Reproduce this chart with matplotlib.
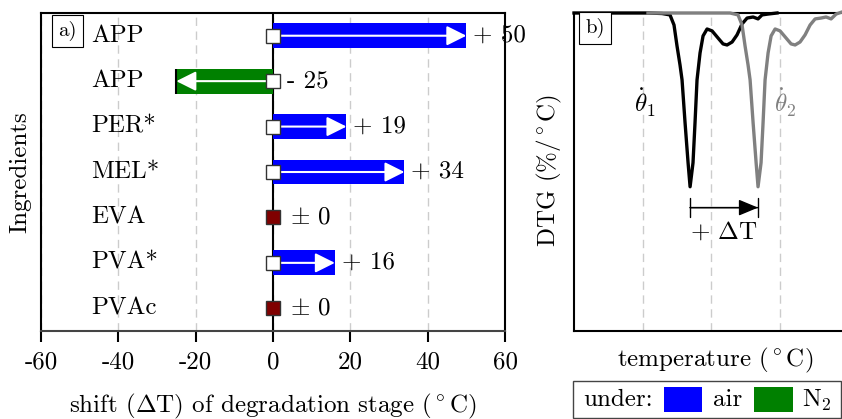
import numpy as np
import matplotlib
matplotlib.use('Agg')
import matplotlib.pyplot as plt
from matplotlib.patches import Rectangle

plt.rcParams['font.family'] = 'serif'
plt.rcParams['font.serif'] = ['cmr10']
plt.rcParams['mathtext.fontset'] = 'cm'
plt.rcParams['axes.unicode_minus'] = False
plt.rcParams['axes.formatter.use_mathtext'] = True

# shift of the degradation stage per ingredient
ingredients = ['APP', 'APP', 'PER*', 'MEL*', 'EVA', 'PVA*', 'PVAc']
shifts = [50, -25, 19, 34, 0, 16, 0]
atmosphere = ['air', 'N2', 'air', 'air', 'air', 'air', 'air']
xticks = [-60, -40, -20, 0, 20, 40, 60]

# DTG curves (temperature in degC, DTG in %/degC)
temp_1 = [200, 281, 296.4, 305.1, 309.5, 312.8, 316.1, 318.3, 321.6, 324.9, 327.1,
          330.3, 332.5, 334.7, 338.0, 341.3, 345.7, 351.2, 357.7, 363.2, 367.6,
          373.1, 378.5, 384.0, 389.5, 396.1, 401.5, 405.9, 412.5, 422.3]
dtg_1 = [0, 0, -0.003, -0.011, -0.069, -0.19, -0.30, -0.385, -0.632, -0.862, -1.0,
         -0.862, -0.632, -0.385, -0.23, -0.132, -0.092, -0.103, -0.144, -0.178, -0.184,
         -0.167, -0.126, -0.063, -0.029, -0.023, -0.034, -0.011, -0.006, 0]
temp_2 = [281, 370.9, 379.6, 384.0, 387.3, 390.6, 392.8, 396.1, 399.4, 401.5,
          404.8, 407.0, 409.2, 412.5, 415.8, 420.2, 425.6, 432.2, 437.7, 442.1,
          447.5, 453.0, 458.5, 464.0, 470.5, 476.0, 481.5, 487.0, 493.5, 500]
dtg_2 = [0, 0, -0.011, -0.069, -0.19, -0.30, -0.385, -0.632, -0.862, -1.0,
         -0.862, -0.632, -0.385, -0.23, -0.132, -0.092, -0.103, -0.144, -0.178, -0.184,
         -0.167, -0.126, -0.069, -0.034, -0.029, -0.023, -0.034, -0.006, 0.006, 0.0]
temp_grid = [275, 350, 425]

colors = {'air': '#0000ff', 'N2': '#008000'}
grid_style = dict(color='#cccccc', lw=1.0, ls=(0, (6, 4)))

W, H = 842, 419
fig = plt.figure(figsize=(W / 100, H / 100), dpi=100)

def fx(px):
    return px / W

def fy(py):
    return 1 - py / H

ax = fig.add_axes([fx(41), fy(331), fx(505) - fx(41), fy(13) - fy(331)])
ax2 = fig.add_axes([fx(574), fy(331), fx(848) - fx(574), fy(13) - fy(331)])

# ---- a) shift per ingredient ----
ax.set_xlim(-60, 60)
ax.set_ylim(len(ingredients) - 0.5, -0.5)
ax.set_xticks(xticks)
ax.set_xticklabels([str(t) for t in xticks])
ax.set_yticks([])
ax.xaxis.grid(True, **grid_style)
ax.set_axisbelow(True)
ax.axvline(0, color='black', lw=1.5, zorder=1)
ax.tick_params(axis='x', direction='out', length=8, width=1.5, pad=7, labelsize=18)
for s in ax.spines.values():
    s.set_linewidth(1.5)
ax.spines['bottom'].set_color('#444444')

for i, (name, v, atm) in enumerate(zip(ingredients, shifts, atmosphere)):
    ax.text(-47, i, name, ha='left', va='center', fontsize=18)
    if v == 0:
        ax.plot(0, i, 's', ms=9.5, mfc='#800000', mec='#333333', mew=1, zorder=5)
        ax.text(4.5, i, r'$\pm$ 0', ha='left', va='center', fontsize=18)
        continue
    ax.barh(i, v, height=0.55, color=colors[atm], zorder=2)
    ax.annotate('', xy=(v, i), xytext=(0, i),
                arrowprops=dict(arrowstyle='-|>,head_length=0.6,head_width=0.3',
                                color='white', lw=1.5, shrinkA=0, shrinkB=0,
                                mutation_scale=20), zorder=3)
    if v < 0:
        ax.vlines(v, i - 0.275, i + 0.275, color='black', lw=1.5, zorder=4)
        ax.text(3.5, i, '- %d' % abs(v), ha='left', va='center', fontsize=18)
    else:
        ax.text(v + 1.8, i, '+ %d' % v, ha='left', va='center', fontsize=18)
    ax.plot(0, i, 's', ms=9.5, mfc='white', mec='#333333', mew=1, zorder=5)

ax.set_xlabel(r'shift ($\Delta$T) of degradation stage ($^\circ$C)', fontsize=18)
ax.xaxis.set_label_coords(0.5, -0.19)
ax.set_ylabel('Ingredients', fontsize=18)
ax.yaxis.set_label_coords(-0.02, 0.5)
ax.text(0.057, 0.944, 'a)', transform=ax.transAxes, ha='center', va='center', fontsize=15,
        bbox=dict(boxstyle='square,pad=0.3', fc='white', ec='black', lw=0.8), zorder=6)

# ---- b) DTG sketch ----
ax2.set_xlim(200, 500)
ax2.set_ylim(-1.83, 0.0)
ax2.set_xticks(temp_grid)
ax2.set_xticklabels([])
ax2.set_yticks([])
ax2.tick_params(axis='x', length=0)
ax2.xaxis.grid(True, **grid_style)
ax2.set_axisbelow(True)
for s in ax2.spines.values():
    s.set_linewidth(1.5)
ax2.spines['right'].set_visible(False)

ax2.plot(temp_1, dtg_1, color='black', lw=2.4, clip_on=False, zorder=3)
ax2.plot(temp_2, dtg_2, color='#808080', lw=2.4, clip_on=False, zorder=4)

t1 = temp_1[int(np.argmin(dtg_1))]
t2 = temp_2[int(np.argmin(dtg_2))]
ax2.annotate('', xy=(t2, -1.12), xytext=(t1, -1.12),
             arrowprops=dict(arrowstyle='|-|,widthA=0.35,widthB=0.35', color='black',
                             lw=1.0, shrinkA=0, shrinkB=0, mutation_scale=20))
ax2.annotate('', xy=(t2, -1.12), xytext=(t1, -1.12),
             arrowprops=dict(arrowstyle='-|>,head_length=0.6,head_width=0.25', color='black',
                             lw=1.0, shrinkA=0, shrinkB=0, mutation_scale=20))
ax2.text((t1 + t2) / 2, -1.26, r'+ $\Delta$T', ha='center', va='center', fontsize=18)
ax2.text(278, -0.52, r'$\dot{\theta}_1$', ha='center', va='center', fontsize=18, color='black')
ax2.text(431, -0.52, r'$\dot{\theta}_2$', ha='center', va='center', fontsize=18, color='#808080')

ax2.set_xlabel(r'temperature ($^\circ$C)', fontsize=18)
ax2.xaxis.set_label_coords(0.515, -0.047)
ax2.set_ylabel(r'DTG (%/$^\circ$C)', fontsize=18)
ax2.yaxis.set_label_coords(-0.036, 0.506)
ax2.text(0.076, 0.953, 'b)', transform=ax2.transAxes, ha='center', va='center', fontsize=15,
         bbox=dict(boxstyle='square,pad=0.3', fc='white', ec='black', lw=0.8), zorder=6)

# ---- legend box ----
fig.patches.append(Rectangle((fx(573), fy(418)), fx(841) - fx(573), fy(381) - fy(418),
                             transform=fig.transFigure, fc='white', ec='#444444', lw=1.0))
fig.text(fx(583), fy(400), 'under:', ha='left', va='center', fontsize=18)
fig.patches.append(Rectangle((fx(664), fy(412)), fx(702) - fx(664), fy(387) - fy(412),
                             transform=fig.transFigure, fc=colors['air'], ec='none'))
fig.text(fx(713), fy(400), 'air', ha='left', va='center', fontsize=18)
fig.patches.append(Rectangle((fx(754), fy(412)), fx(793) - fx(754), fy(387) - fy(412),
                             transform=fig.transFigure, fc=colors['N2'], ec='none'))
fig.text(fx(802), fy(400), r'N$_2$', ha='left', va='center', fontsize=18)

fig.savefig('out.png', dpi=100)
